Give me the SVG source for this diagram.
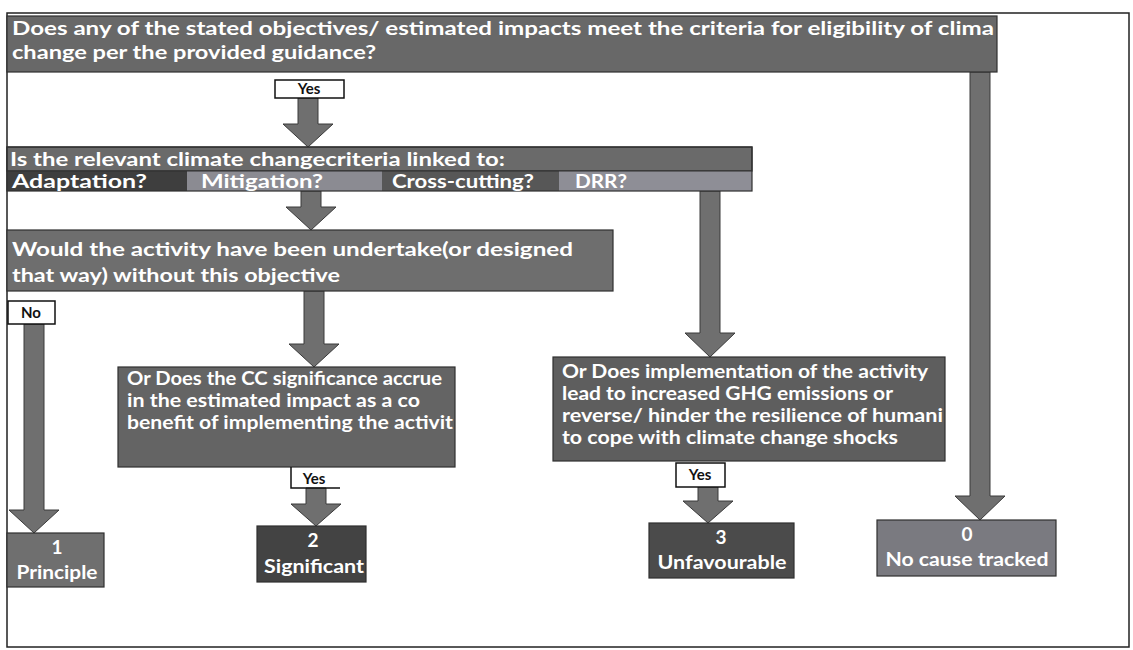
<svg xmlns="http://www.w3.org/2000/svg" width="1133" height="650" viewBox="0 0 1133 650">
<style>
.box{stroke:#2f2f2f;stroke-width:1.2}
.wt{fill:#ffffff;font-family:Lato,"Open Sans","Liberation Sans",sans-serif;font-weight:700}
.bt{fill:#111111;font-family:Lato,"Open Sans","Liberation Sans",sans-serif;font-weight:700;font-size:15px;text-anchor:middle}
.lbl{fill:#ffffff;stroke:#111111;stroke-width:1.5}
.arr{fill:#6f6f6f;stroke:#3a3a3a;stroke-width:1}
.c{text-anchor:middle}
</style>
<rect x="0" y="0" width="1133" height="650" fill="#ffffff"/>
<rect x="7" y="13" width="1122" height="634" fill="none" stroke="#222222" stroke-width="1.5"/>

<g id="connectors">
  <polygon class="arr" points="298,98 318,98 318,124 333,124 308,147 283,124 298,124"/>
  <polygon class="arr" points="301,191 321,191 321,207 336,207 311,230 286,207 301,207"/>
  <polygon class="arr" points="24,324 44,324 44,510 59,510 34,533 9,510 24,510"/>
  <polygon class="arr" points="304,291 324,291 324,344 339,344 314,367 289,344 304,344"/>
  <polygon class="arr" points="306,488 326,488 326,504 341,504 316,526 291,504 306,504"/>
  <polygon class="arr" points="700,191 720,191 720,333 735,333 710,357 685,333 700,333"/>
  <polygon class="arr" points="698,487 718,487 718,501 733,501 708,523 683,501 698,501"/>
  <polygon class="arr" points="970,72 990,72 990,496 1005,496 980,520 955,496 970,496"/>
</g>

<g id="q1">
  <rect class="box" x="7" y="16" width="990" height="56" fill="#686868"/>
  <text class="wt" x="12" y="35" font-size="19" textLength="982" lengthAdjust="spacingAndGlyphs">Does any of the stated objectives/ estimated impacts meet the criteria for eligibility of clima</text>
  <text class="wt" x="12" y="59" font-size="19" textLength="364" lengthAdjust="spacingAndGlyphs">change per the provided guidance?</text>
</g>

<g id="yes1">
  <rect class="lbl" x="275" y="80" width="69" height="18"/>
  <text class="bt" x="309" y="94">Yes</text>
</g>

<g id="q2">
  <rect class="box" x="7" y="147" width="745" height="24" fill="#6a6a6a"/>
  <rect x="7" y="171" width="180" height="20" fill="#3e3e3e"/>
  <rect x="187" y="171" width="195" height="20" fill="#8b8b92"/>
  <rect x="382" y="171" width="177" height="20" fill="#575757"/>
  <rect x="559" y="171" width="193" height="20" fill="#8e8e96"/>
  <rect x="7" y="147" width="745" height="44" fill="none" stroke="#2f2f2f" stroke-width="1.2"/>
  <line x1="7" y1="171" x2="752" y2="171" stroke="#2f2f2f" stroke-width="1"/>
  <text class="wt" x="10" y="166" font-size="18" textLength="495" lengthAdjust="spacingAndGlyphs">Is the relevant climate changecriteria linked to:</text>
  <text class="wt" x="12" y="188" font-size="19" textLength="135" lengthAdjust="spacingAndGlyphs">Adaptation?</text>
  <text class="wt" x="201" y="188" font-size="19" textLength="122" lengthAdjust="spacingAndGlyphs">Mitigation?</text>
  <text class="wt" x="392" y="188" font-size="19" textLength="142" lengthAdjust="spacingAndGlyphs">Cross-cutting?</text>
  <text class="wt" x="575" y="188" font-size="19" textLength="52" lengthAdjust="spacingAndGlyphs">DRR?</text>
</g>

<g id="q3">
  <rect class="box" x="7" y="230" width="606" height="61" fill="#6e6e6e"/>
  <text class="wt" x="12" y="256" font-size="19" textLength="561" lengthAdjust="spacingAndGlyphs">Would the activity have been undertake(or designed</text>
  <text class="wt" x="12" y="282" font-size="19" textLength="328" lengthAdjust="spacingAndGlyphs">that way) without this objective</text>
</g>

<g id="no">
  <rect class="lbl" x="8" y="301" width="47" height="23"/>
  <text class="bt" x="31" y="318" font-size="16">No</text>
</g>

<g id="q4">
  <rect class="box" x="118" y="367" width="337" height="100" fill="#646464"/>
  <text class="wt" x="127" y="385" font-size="18" textLength="315" lengthAdjust="spacingAndGlyphs">Or Does the CC significance accrue</text>
  <text class="wt" x="127" y="407" font-size="18" textLength="293" lengthAdjust="spacingAndGlyphs">in the estimated impact as a co</text>
  <text class="wt" x="127" y="429" font-size="18" textLength="326" lengthAdjust="spacingAndGlyphs">benefit of implementing the activit</text>
</g>

<g id="yes2">
  <path d="M291,467 V488 H340" fill="none" stroke="#111111" stroke-width="1.5"/>
  <text class="bt" x="314" y="484">Yes</text>
</g>

<g id="q5">
  <rect class="box" x="553" y="357" width="392" height="104" fill="#5e5e5e"/>
  <text class="wt" x="562" y="378" font-size="18" textLength="366" lengthAdjust="spacingAndGlyphs">Or Does implementation of the activity</text>
  <text class="wt" x="562" y="400" font-size="18" textLength="331" lengthAdjust="spacingAndGlyphs">lead to increased GHG emissions or</text>
  <text class="wt" x="562" y="422" font-size="18" textLength="381" lengthAdjust="spacingAndGlyphs">reverse/ hinder the resilience of humani</text>
  <text class="wt" x="562" y="444" font-size="18" textLength="336" lengthAdjust="spacingAndGlyphs">to cope with climate change shocks</text>
</g>

<g id="yes3">
  <rect class="lbl" x="676" y="463" width="49" height="24"/>
  <text class="bt" x="700" y="480">Yes</text>
</g>

<g id="r1">
  <rect class="box" x="7" y="533" width="97" height="54" fill="#6f6f6f"/>
  <text class="wt c" x="57" y="554" font-size="19">1</text>
  <text class="wt c" x="57" y="579" font-size="19" textLength="81" lengthAdjust="spacingAndGlyphs">Principle</text>
</g>

<g id="r2">
  <rect class="box" x="257" y="526" width="109" height="56" fill="#434343"/>
  <text class="wt c" x="313" y="547" font-size="19">2</text>
  <text class="wt c" x="314" y="573" font-size="19" textLength="100" lengthAdjust="spacingAndGlyphs">Significant</text>
</g>

<g id="r3">
  <rect class="box" x="649" y="523" width="145" height="55" fill="#4b4b4b"/>
  <text class="wt c" x="721" y="544" font-size="19">3</text>
  <text class="wt c" x="722" y="569" font-size="19" textLength="129" lengthAdjust="spacingAndGlyphs">Unfavourable</text>
</g>

<g id="r0">
  <rect class="box" x="877" y="520" width="179" height="56" fill="#7a7a80"/>
  <text class="wt c" x="967" y="541" font-size="19">0</text>
  <text class="wt c" x="967" y="566" font-size="19" textLength="163" lengthAdjust="spacingAndGlyphs">No cause tracked</text>
</g>
</svg>
